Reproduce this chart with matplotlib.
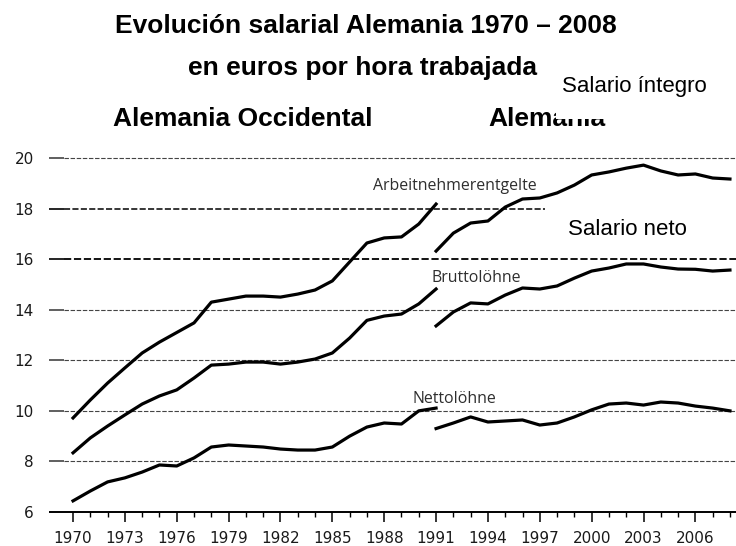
import matplotlib
matplotlib.use("Agg")
import matplotlib.pyplot as plt
from matplotlib.patches import Rectangle

# years
years_west = list(range(1970, 1992))
years_unified = list(range(1991, 2009))

# Arbeitnehmerentgelte (Salario integro)
entgelte_west = [9.72, 10.43, 11.1, 11.7, 12.29, 12.72, 13.1, 13.48, 14.3, 14.42, 14.54,
                 14.54, 14.5, 14.62, 14.78, 15.14, 15.89, 16.64, 16.84, 16.88, 17.39, 18.18]
entgelte_unified = [16.32, 17.03, 17.43, 17.51, 18.06, 18.38, 18.42, 18.62, 18.93, 19.33,
                    19.45, 19.6, 19.72, 19.49, 19.33, 19.37, 19.21, 19.17]

# Bruttolöhne
brutto_west = [8.34, 8.93, 9.4, 9.84, 10.27, 10.59, 10.83, 11.3, 11.81, 11.85, 11.93,
               11.93, 11.85, 11.93, 12.05, 12.29, 12.88, 13.58, 13.75, 13.83, 14.23, 14.82]
brutto_unified = [13.36, 13.91, 14.27, 14.23, 14.58, 14.86, 14.82, 14.94, 15.25, 15.53,
                  15.65, 15.81, 15.81, 15.69, 15.61, 15.6, 15.53, 15.57]

# Nettolöhne
netto_west = [6.44, 6.83, 7.19, 7.35, 7.58, 7.86, 7.82, 8.14, 8.57, 8.65, 8.61,
              8.57, 8.49, 8.45, 8.45, 8.57, 9.0, 9.36, 9.52, 9.48, 10.0, 10.11]
netto_unified = [9.3, 9.52, 9.76, 9.56, 9.6, 9.64, 9.44, 9.52, 9.76, 10.04,
                 10.27, 10.31, 10.23, 10.35, 10.31, 10.19, 10.11, 10.0]

yticks = [6, 8, 10, 12, 14, 16, 18, 20]
xticks_major = list(range(1970, 2007, 3))

W, H = 736, 546
fig = plt.figure(figsize=(W / 100, H / 100), dpi=100)
x0, x1 = 1968.61, 2008.35
ax = fig.add_axes([49 / W, 34 / H, (W - 49) / W, (512 - 145.4) / H])
ax.set_xlim(x0, x1)
ax.set_ylim(6, 20.5)
for s in ax.spines.values():
    s.set_visible(False)

# gridlines: short solid stub then dashes
stub = 1969.45
for v in yticks[1:]:
    if v == 16:
        col, lw = 'black', 1.3
    elif v == 18:
        col, lw = 'black', 1.1
    else:
        col, lw = '#444444', 0.8
    end = 1997.3 if v == 18 else x1
    ax.plot([x0, stub], [v, v], color=col, lw=1.2, solid_capstyle='butt')
    ax.plot([stub, end], [v, v], color=col, lw=lw, linestyle=(0, (4, 1.5)))
ax.plot([x0, x1], [6, 6], color='black', lw=1.4, solid_capstyle='butt', clip_on=False)

lw_data = 2.3
for xs, ys in [(years_west, entgelte_west), (years_unified, entgelte_unified),
               (years_west, brutto_west), (years_unified, brutto_unified),
               (years_west, netto_west), (years_unified, netto_unified)]:
    ax.plot(xs, ys, color='black', lw=lw_data, solid_joinstyle='round')

ax.set_yticks(yticks)
ax.tick_params(axis='y', length=0, pad=11, labelsize=11, labelcolor='#1a1a1a')
ax.set_xticks(xticks_major)
ax.set_xticks(list(range(1970, 2009)), minor=True)
ax.tick_params(axis='x', which='major', direction='out', length=7.5, width=1.1,
               pad=6, labelsize=11, labelcolor='#1a1a1a')
ax.tick_params(axis='x', which='minor', direction='out', length=3.5, width=1.0)

# series labels inside the plot
lab = dict(fontsize=11.4, color='#2e2e2e', family='Open Sans', va='baseline')
ax.text(1987.35, 18.73, 'Arbeitnehmerentgelte', **lab)
ax.text(1990.76, 15.10, 'Bruttolöhne', **lab)
ax.text(1989.66, 10.31, 'Nettolöhne', **lab)

# overlay texts
bold = dict(family='Liberation Sans', weight='bold', fontsize=19, va='baseline')
reg = dict(family='Liberation Sans', fontsize=16, va='baseline')
fig.text(366 / W, 1 - 33 / H, 'Evolución salarial Alemania 1970 – 2008', ha='center', **bold)
fig.text(362 / W, 1 - 75 / H, 'en euros por hora trabajada', ha='center', **bold)
fig.text(113 / W, 1 - 126 / H, 'Alemania Occidental', ha='left', **bold)
fig.text(488 / W, 1 - 126 / H, 'Alemania', ha='left', **bold)
# part of the second heading is hidden in the original
fig.add_artist(Rectangle((556 / W, 1 - 119 / H), 54 / W, 21 / H,
                         transform=fig.transFigure, facecolor='white',
                         edgecolor='none', zorder=5))
fig.text(562 / W, 1 - 92 / H, 'Salario íntegro', ha='left', **reg)
fig.text(568 / W, 1 - 235 / H, 'Salario neto', ha='left', **reg)

fig.savefig('out.png', dpi=100)
